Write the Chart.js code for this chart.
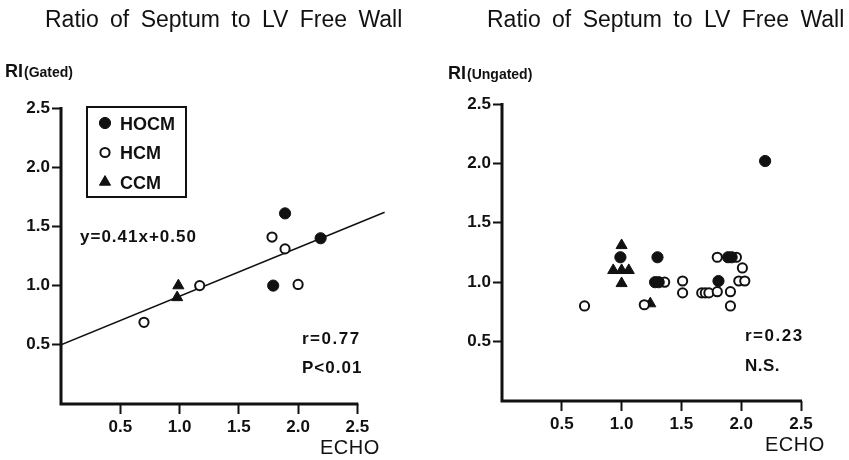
<!DOCTYPE html>
<html>
<head>
<meta charset="utf-8">
<script src="https://cdn.jsdelivr.net/npm/chart.js"></script>
<style>
    html, body { margin: 0; padding: 0; background: #fff; }
    .panel { position: absolute; top: 0; height: 460px; }
    #left { left: 0; width: 425px; }
    #right { left: 425px; width: 424px; }
</style>
</head>
<body>
<div class="panel" id="left"><canvas id="gated" width="425" height="460"></canvas></div>
<div class="panel" id="right"><canvas id="ungated" width="424" height="460"></canvas></div>
<script>
    // tick values shared by both panels
    var axisTicks = [0.5, 1.0, 1.5, 2.0, 2.5];

    // RI (gated) vs ECHO
    var gatedHOCM = [{x: 1.89, y: 1.61}, {x: 2.19, y: 1.40}, {x: 1.79, y: 1.00}];
    var gatedHCM = [{x: 1.78, y: 1.41}, {x: 1.89, y: 1.31}, {x: 2.00, y: 1.01}, {x: 1.17, y: 1.00}, {x: 0.70, y: 0.69}];
    var gatedCCM = [{x: 0.99, y: 1.00}, {x: 0.98, y: 0.90}];
    var fitSlope = 0.41, fitIntercept = 0.50, fitEnd = 2.73;

    // RI (ungated) vs ECHO
    var ungatedHOCM = [{x: 2.20, y: 2.02}, {x: 0.99, y: 1.21}, {x: 1.30, y: 1.21}, {x: 1.28, y: 1.00}, {x: 1.31, y: 1.00},
        {x: 1.81, y: 1.01}, {x: 1.89, y: 1.21}, {x: 1.92, y: 1.21}];
    var ungatedHCM = [{x: 0.69, y: 0.80}, {x: 1.19, y: 0.81}, {x: 1.36, y: 1.00}, {x: 1.51, y: 1.01}, {x: 1.51, y: 0.91},
        {x: 1.67, y: 0.91}, {x: 1.70, y: 0.91}, {x: 1.73, y: 0.91}, {x: 1.80, y: 0.92}, {x: 1.80, y: 1.21},
        {x: 1.91, y: 0.92}, {x: 1.91, y: 0.80}, {x: 1.96, y: 1.21}, {x: 2.01, y: 1.12}, {x: 1.98, y: 1.01}, {x: 2.03, y: 1.01}];
    var ungatedCCM = [{x: 1.00, y: 1.31}, {x: 0.93, y: 1.10}, {x: 1.00, y: 1.10}, {x: 1.06, y: 1.10}, {x: 1.00, y: 0.99}, {x: 1.24, y: 0.82}];

    var FONT = '"Liberation Sans", Arial, Helvetica, sans-serif';
    var INK = "#111";

    var groupStyles = {
        HOCM: { pointStyle: "circle", pointRadius: 5.6, pointBorderWidth: 1, pointBackgroundColor: INK, pointBorderColor: INK },
        HCM: { pointStyle: "circle", pointRadius: 4.6, pointBorderWidth: 2, pointBackgroundColor: "#fff", pointBorderColor: INK },
        CCM: { pointStyle: "triangle", pointRadius: 6.4, pointBorderWidth: 1, pointBackgroundColor: INK, pointBorderColor: INK }
    };

    function group(label, data) {
        return Object.assign({ label: label, data: data, order: 1 }, groupStyles[label]);
    }

    // thick L-shaped axes, stopping at the last tick
    var axisLines = {
        id: "axisLines",
        beforeDatasetsDraw: function(chart) {
            var ctx = chart.ctx, sx = chart.scales.x, sy = chart.scales.y;
            var last = axisTicks[axisTicks.length - 1];
            ctx.save();
            ctx.strokeStyle = INK;
            ctx.lineWidth = 3;
            ctx.lineJoin = "miter";
            ctx.beginPath();
            ctx.moveTo(sx.getPixelForValue(0), sy.getPixelForValue(last) - 1);
            ctx.lineTo(sx.getPixelForValue(0), sy.getPixelForValue(0));
            ctx.lineTo(sx.getPixelForValue(last) + 1, sy.getPixelForValue(0));
            ctx.stroke();
            ctx.restore();
        }
    };

    var panelText = {
        id: "panelText",
        afterDraw: function(chart, args, opts) {
            var ctx = chart.ctx;
            ctx.save();
            ctx.fillStyle = INK;
            ctx.textAlign = "left";
            ctx.textBaseline = "alphabetic";

            ctx.font = "23px " + FONT;
            ctx.wordSpacing = "5px";
            ctx.fillText(opts.title, opts.titleX, 27);
            ctx.wordSpacing = "0px";

            ctx.font = "bold 18px " + FONT;
            ctx.fillText("RI", opts.riX, opts.riY);
            var w = ctx.measureText("RI").width;
            ctx.font = "bold 14px " + FONT;
            ctx.fillText(opts.riSub, opts.riX + w + 1, opts.riY);

            opts.notes.forEach(function(n) {
                ctx.font = n.font;
                ctx.letterSpacing = n.spacing || "0px";
                ctx.fillText(n.text, n.x, n.y);
            });
            ctx.letterSpacing = "0px";

            if (opts.legend) {
                var lg = opts.legend;
                ctx.strokeStyle = INK;
                ctx.lineWidth = 2;
                ctx.strokeRect(lg.x, lg.y, lg.w, lg.h);
                ctx.font = "bold 18px " + FONT;
                ["HOCM", "HCM", "CCM"].forEach(function(name, i) {
                    var st = groupStyles[name];
                    var cy = lg.y + 16 + i * 29.5;
                    ctx.fillStyle = st.pointBackgroundColor;
                    ctx.strokeStyle = st.pointBorderColor;
                    ctx.lineWidth = st.pointBorderWidth;
                    Chart.helpers.drawPoint(ctx, {
                        pointStyle: st.pointStyle, radius: st.pointRadius, rotation: 0, borderWidth: st.pointBorderWidth
                    }, lg.x + 18, cy);
                    ctx.fillStyle = INK;
                    ctx.fillText(name, lg.x + 33, cy + 6.5);
                });
            }
            ctx.restore();
        }
    };

    function scaleOptions(max, size, isX) {
        return {
            type: "linear",
            min: 0,
            max: max,
            afterBuildTicks: function(scale) {
                scale.ticks = axisTicks.map(function(v) { return { value: v }; });
            },
            afterFit: function(scale) {
                if (isX) scale.height = size; else scale.width = size;
            },
            border: { display: false },
            grid: {
                drawOnChartArea: false,
                drawTicks: true,
                tickLength: isX ? 10 : 9,
                tickWidth: 2,
                tickColor: INK
            },
            ticks: {
                autoSkip: false,
                maxRotation: 0,
                padding: isX ? 3 : 2,
                color: INK,
                font: { family: FONT, size: 17, weight: "bold" },
                callback: function(v) { return Number(v).toFixed(1); }
            }
        };
    }

    function makeChart(canvasId, datasets, layout, text) {
        return new Chart(document.getElementById(canvasId).getContext("2d"), {
            type: "scatter",
            data: { datasets: datasets },
            options: {
                responsive: false,
                animation: false,
                layout: { padding: { left: 0, top: layout.top, right: layout.right, bottom: 0 } },
                plugins: {
                    legend: { display: false },
                    tooltip: { enabled: false },
                    panelText: text
                },
                scales: {
                    x: scaleOptions(layout.xMax, layout.xHeight, true),
                    y: scaleOptions(2.5, layout.yWidth, false)
                }
            },
            plugins: [axisLines, panelText]
        });
    }

    makeChart("gated", [
        group("HOCM", gatedHOCM),
        group("HCM", gatedHCM),
        group("CCM", gatedCCM),
        {
            label: "fit",
            data: [{x: 0, y: fitIntercept}, {x: fitEnd, y: fitSlope * fitEnd + fitIntercept}],
            showLine: true,
            borderColor: INK,
            borderWidth: 1.5,
            pointRadius: 0,
            order: 5
        }
    ], { top: 108, right: 38, xMax: 2.75, xHeight: 56, yWidth: 61 }, {
        title: "Ratio of Septum to LV Free Wall",
        titleX: 45,
        riX: 5, riY: 77, riSub: "(Gated)",
        legend: { x: 87, y: 107, w: 99, h: 90 },
        notes: [
            { text: "y=0.41x+0.50", x: 80, y: 242, font: "bold 17px " + FONT, spacing: "1px" },
            { text: "r=0.77", x: 302, y: 344, font: "bold 17px " + FONT, spacing: "1.5px" },
            { text: "P<0.01", x: 302, y: 373, font: "bold 17px " + FONT, spacing: "1px" },
            { text: "ECHO", x: 320, y: 454, font: "20px " + FONT, spacing: "0.5px" }
        ]
    });

    makeChart("ungated", [
        group("HOCM", ungatedHOCM),
        group("HCM", ungatedHCM),
        group("CCM", ungatedCCM)
    ], { top: 104, right: 48, xMax: 2.5, xHeight: 59, yWidth: 77 }, {
        title: "Ratio of Septum to LV Free Wall",
        titleX: 62,
        riX: 23, riY: 79, riSub: "(Ungated)",
        legend: null,
        notes: [
            { text: "r=0.23", x: 320, y: 341, font: "bold 17px " + FONT, spacing: "1.5px" },
            { text: "N.S.", x: 320, y: 371, font: "bold 17px " + FONT, spacing: "0.5px" },
            { text: "ECHO", x: 340, y: 451, font: "20px " + FONT, spacing: "0.5px" }
        ]
    });
</script>
</body>
</html>
